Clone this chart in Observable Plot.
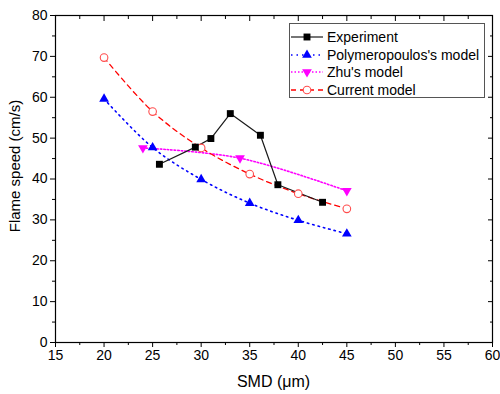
<!DOCTYPE html>
<html><head><meta charset="utf-8">
<script src="https://cdn.jsdelivr.net/npm/d3@7"></script>
<script src="https://cdn.jsdelivr.net/npm/@observablehq/plot@0.6"></script>
<style>
body{margin:0;background:#fff;}
#wrap{position:relative;width:500px;height:394px;font-family:"Liberation Sans",Arial,sans-serif;color:#000;}
#legend{position:absolute;left:289px;top:23px;width:196px;height:75px;border:1px solid #555;background:#fff;box-sizing:border-box;font-size:14px;}
.row{position:absolute;left:0;height:18px;width:194px;}
.row svg{position:absolute;left:0;top:0;}
.row span{position:absolute;left:37px;top:0;line-height:18px;white-space:nowrap;}
.xt{position:absolute;left:0;width:547px;top:373px;text-align:center;font-size:16px;}
.yt{position:absolute;left:14px;top:166px;transform:translate(-50%,-50%) rotate(-90deg);font-size:15px;white-space:nowrap;}
</style></head><body>
<div id="wrap"><div id="chart"></div><div id="legend"></div>
<div class="xt">SMD (μm)</div><div class="yt">Flame speed (cm/s)</div></div>
<script>
const expX = [25.7, 29.4, 31.0, 33.0, 36.1, 37.9, 42.5];
const expY = [43.6, 47.8, 49.9, 56.0, 50.7, 38.6, 34.3];
const polyX = [20, 25, 30, 35, 40, 45];
const polyY = [59.6, 47.7, 39.9, 34.1, 29.9, 26.6];
const zhuX = [24, 34, 45];
const zhuY = [47.6, 45.1, 37.1];
const curX = [20, 25, 30, 35, 40, 45];
const curY = [69.7, 56.5, 47.6, 41.2, 36.4, 32.7];
const xTicks = [15, 20, 25, 30, 35, 40, 45, 50, 55, 60];
const xMinor = [17.5, 22.5, 27.5, 32.5, 37.5, 42.5, 47.5, 52.5, 57.5];
const yTicks = [0, 10, 20, 30, 40, 50, 60, 70, 80];
const yMinor = [5, 15, 25, 35, 45, 55, 65, 75];
const seriesNames = ["Experiment", "Polymeropoulos's model", "Zhu's model", "Current model"];

const toRows = (xs, ys) => xs.map((x, i) => ({x, y: ys[i]}));
const expData = toRows(expX, expY);
const polyData = toRows(polyX, polyY);
const zhuData = toRows(zhuX, zhuY);
const curData = toRows(curX, curY);

const sqrt3 = Math.sqrt(3);
const triDown = {
  draw(ctx, size) {
    const y = -Math.sqrt(size / (sqrt3 * 3));
    ctx.moveTo(0, -y * 2);
    ctx.lineTo(-sqrt3 * y, y);
    ctx.lineTo(sqrt3 * y, y);
    ctx.closePath();
  }
};

const styles = [
  {stroke: "#1a1a1a", dash: null, width: 1.2, curve: "linear"},
  {stroke: "#0000ff", dash: "1.5,4", width: 1.6, curve: "catmull-rom"},
  {stroke: "#ff00ff", dash: "1.5,2", width: 1.6, curve: "catmull-rom"},
  {stroke: "#ff0000", dash: "5,4", width: 1.3, curve: "catmull-rom"}
];

const chart = Plot.plot({
  width: 500, height: 394,
  marginLeft: 55, marginRight: 8, marginTop: 15, marginBottom: 52,
  style: {fontFamily: '"Liberation Sans", Arial, sans-serif', fontSize: "14px", color: "#000", background: "#fff"},
  x: {domain: [15, 60], label: null},
  y: {domain: [0, 80], label: null},
  marks: [
    Plot.axisX({ticks: xTicks, tickSize: 5, tickPadding: 3, label: null, tickFormat: d => d, stroke: "#000"}),
    Plot.axisX({ticks: xMinor, tickSize: 3, fill: "none", label: null, stroke: "#000"}),
    Plot.axisX({anchor: "top", ticks: xTicks, tickSize: 5, dy: 5, fill: "none", label: null, stroke: "#000"}),
    Plot.axisX({anchor: "top", ticks: xMinor, tickSize: 3, dy: 3, fill: "none", label: null, stroke: "#000"}),
    Plot.axisY({ticks: yTicks, tickSize: 5, tickPadding: 3, label: null, tickFormat: d => d, stroke: "#000"}),
    Plot.axisY({ticks: yMinor, tickSize: 3, fill: "none", label: null, stroke: "#000"}),
    Plot.axisY({anchor: "right", ticks: yTicks, tickSize: 5, dx: -5, fill: "none", label: null, stroke: "#000"}),
    Plot.axisY({anchor: "right", ticks: yMinor, tickSize: 3, dx: -3, fill: "none", label: null, stroke: "#000"}),
    Plot.frame({stroke: "#000", strokeWidth: 1.2}),
    Plot.line(polyData, {x: "x", y: "y", stroke: styles[1].stroke, strokeDasharray: styles[1].dash, strokeWidth: styles[1].width, curve: styles[1].curve}),
    Plot.line(zhuData, {x: "x", y: "y", stroke: styles[2].stroke, strokeDasharray: styles[2].dash, strokeWidth: styles[2].width, curve: styles[2].curve}),
    Plot.line(curData, {x: "x", y: "y", stroke: styles[3].stroke, strokeDasharray: styles[3].dash, strokeWidth: styles[3].width, curve: styles[3].curve}),
    Plot.line(expData, {x: "x", y: "y", stroke: styles[0].stroke, strokeWidth: styles[0].width}),
    Plot.dot(polyData, {x: "x", y: "y", symbol: "triangle", r: 3.6, fill: "#0000ff", stroke: "none"}),
    Plot.dot(zhuData, {x: "x", y: "y", symbol: triDown, r: 3.6, fill: "#ff00ff", stroke: "none"}),
    Plot.dot(curData, {x: "x", y: "y", symbol: "circle", r: 3.8, fill: "#fff", stroke: "#ff4d4d", strokeWidth: 1.1}),
    Plot.dot(expData, {x: "x", y: "y", symbol: "square", r: 3.9, fill: "#000", stroke: "none"})
  ]
});
document.getElementById("chart").appendChild(chart);

// legend
const markerPaths = [
  d3.symbol(d3.symbolSquare, 3.9 * 3.9 * Math.PI)(),
  d3.symbol(d3.symbolTriangle, 3.6 * 3.6 * Math.PI)(),
  d3.symbol(triDown, 3.6 * 3.6 * Math.PI)(),
  d3.symbol(d3.symbolCircle, 3.8 * 3.8 * Math.PI)()
];
const markerFill = ["#000", "#0000ff", "#ff00ff", "#fff"];
const markerStroke = ["none", "none", "none", "#ff4d4d"];
const legend = document.getElementById("legend");
seriesNames.forEach((name, i) => {
  const row = document.createElement("div");
  row.className = "row";
  row.style.top = (4 + i * 17.7) + "px";
  const s = styles[i];
  row.innerHTML = `<svg width="36" height="18"><line x1="1" x2="33" y1="9" y2="9" stroke="${s.stroke}" stroke-width="${s.width}" ${s.dash ? `stroke-dasharray="${s.dash}"` : ""}/><path transform="translate(17,9)" d="${markerPaths[i]}" fill="${markerFill[i]}" stroke="${markerStroke[i]}" stroke-width="1.1"/></svg><span>${name}</span>`;
  legend.appendChild(row);
});
</script>
</body></html>
